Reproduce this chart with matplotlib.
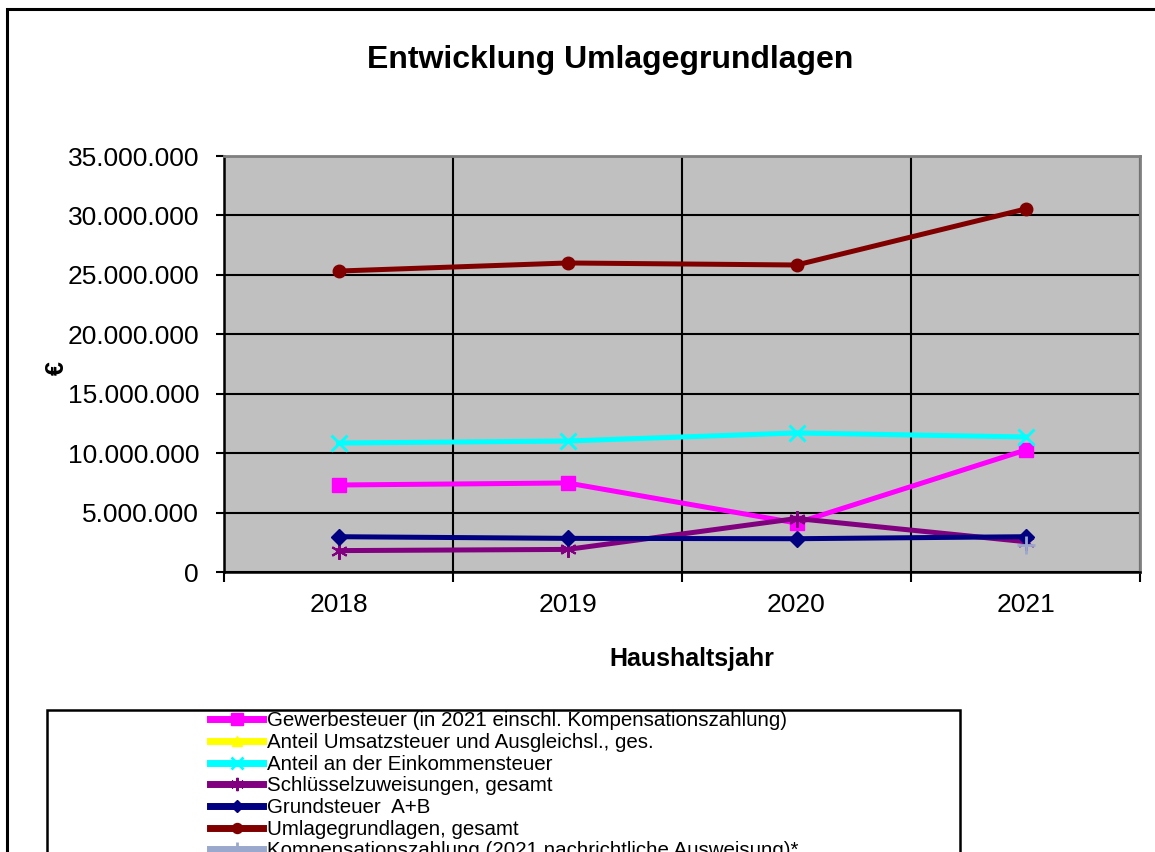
import numpy as np
import matplotlib
matplotlib.use("Agg")
from matplotlib import pyplot as plt
from matplotlib.ticker import FuncFormatter, FixedLocator
from matplotlib.patches import Rectangle

plt.rcParams['font.family'] = ['Liberation Sans', 'DejaVu Sans']

years = ['2018', '2019', '2020', '2021']
gewerbe = [7.32e6, 7.49e6, 4.12e6, 10.26e6]
umsatz = [np.nan, np.nan, np.nan, np.nan]
einkommen = [10.85e6, 11.02e6, 11.70e6, 11.36e6]
schluessel = [1.80e6, 1.90e6, 4.50e6, 2.55e6]
grundsteuer = [2.97e6, 2.83e6, 2.80e6, 2.97e6]
umlage = [25.32e6, 26.00e6, 25.83e6, 30.54e6]
kompensation = [np.nan, np.nan, np.nan, 2.27e6]

labels = ['Gewerbesteuer (in 2021 einschl. Kompensationszahlung)',
          'Anteil Umsatzsteuer und Ausgleichsl., ges.',
          'Anteil an der Einkommensteuer',
          'Schlüsselzuweisungen, gesamt',
          'Grundsteuer  A+B',
          'Umlagegrundlagen, gesamt',
          'Kompensationszahlung (2021 nachrichtliche Ausweisung)*']

fig = plt.figure(figsize=(11.55, 8.52), dpi=100)
W, H = 1155, 852
ax = fig.add_axes([224 / W, 1 - 572 / H, (1140 - 224) / W, (572 - 156) / H])
ax.set_facecolor('#C0C0C0')

# figure frame (cut at right/bottom like the source)
fig.patches.append(Rectangle((7 / W, -0.1), 1.2, 1 - 9 / H + 0.1, transform=fig.transFigure,
                             fill=False, edgecolor='black', linewidth=2.2))

x = np.arange(len(years))
lw = 3.6
series = [
    (gewerbe, '#FF00FF', 's', 10, 1),
    (umsatz, '#FFFF00', '^', 9, 1),
    (einkommen, '#00FFFF', 'x', 11, 2),
    (schluessel, '#800080', (6, 2, 0), 12, 1.5),
    (grundsteuer, '#000080', 'D', 8, 1),
    (umlage, '#800000', 'o', 9, 1),
    (kompensation, '#99A8CC', '+', 13, 2),
]
handles = []
for (vals, col, mk, ms, mew), lab in zip(series, labels):
    h, = ax.plot(x, vals, color=col, lw=lw, marker=mk, markersize=ms,
                 markeredgewidth=mew, markeredgecolor=col, markerfacecolor=col,
                 label=lab, solid_joinstyle='round', clip_on=False)
    handles.append(h)

ax.set_xlim(-0.5, 3.5)
ax.set_ylim(0, 35e6)
ax.set_yticks(np.arange(0, 35e6 + 1, 5e6))
ax.yaxis.set_major_formatter(FuncFormatter(lambda v, p: f'{int(v):,}'.replace(',', '.')))
ax.set_xticks(x)
ax.set_xticklabels(years)
ax.xaxis.set_minor_locator(FixedLocator([-0.5, 0.5, 1.5, 2.5, 3.5]))
ax.tick_params(axis='x', which='major', length=0, labelsize=19, pad=15)
ax.tick_params(axis='x', which='minor', length=7, width=1.5, color='black')
ax.tick_params(axis='y', length=6, width=1.5, labelsize=19, pad=12)

ax.grid(axis='y', which='major', color='black', lw=1.5)
ax.grid(axis='x', which='minor', color='black', lw=1.5)
ax.set_axisbelow(True)

for s in ['left', 'bottom']:
    ax.spines[s].set_color('black')
    ax.spines[s].set_linewidth(1.8)
for s in ['top', 'right']:
    ax.spines[s].set_color('#808080')
    ax.spines[s].set_linewidth(2)

fig.text(610 / W, 1 - 60 / H, 'Entwicklung Umlagegrundlagen', ha='center', va='center',
         fontsize=23, fontweight='bold')
fig.text(692 / W, 1 - 659 / H, 'Haushaltsjahr', ha='center', va='center',
         fontsize=18, fontweight='bold')
fig.text(57 / W, 1 - 368 / H, '€', ha='center', va='center', rotation=90,
         fontsize=18, fontweight='bold')

# legend box
fig.patches.append(Rectangle((47 / W, -0.1), (960 - 47) / W, 1 - 710 / H + 0.1,
                             transform=fig.transFigure, fill=False,
                             edgecolor='black', linewidth=1.8))
leg = fig.legend(handles=handles, loc='upper center', bbox_to_anchor=(504 / W, 1 - 697 / H),
                 frameon=False, fontsize=14.8, handlelength=2.6, handletextpad=0.15,
                 labelspacing=0.13, markerscale=0.8, borderpad=0.2)
for lh in leg.get_lines():
    lh.set_linewidth(5)

fig.savefig('out.png', dpi=100)
